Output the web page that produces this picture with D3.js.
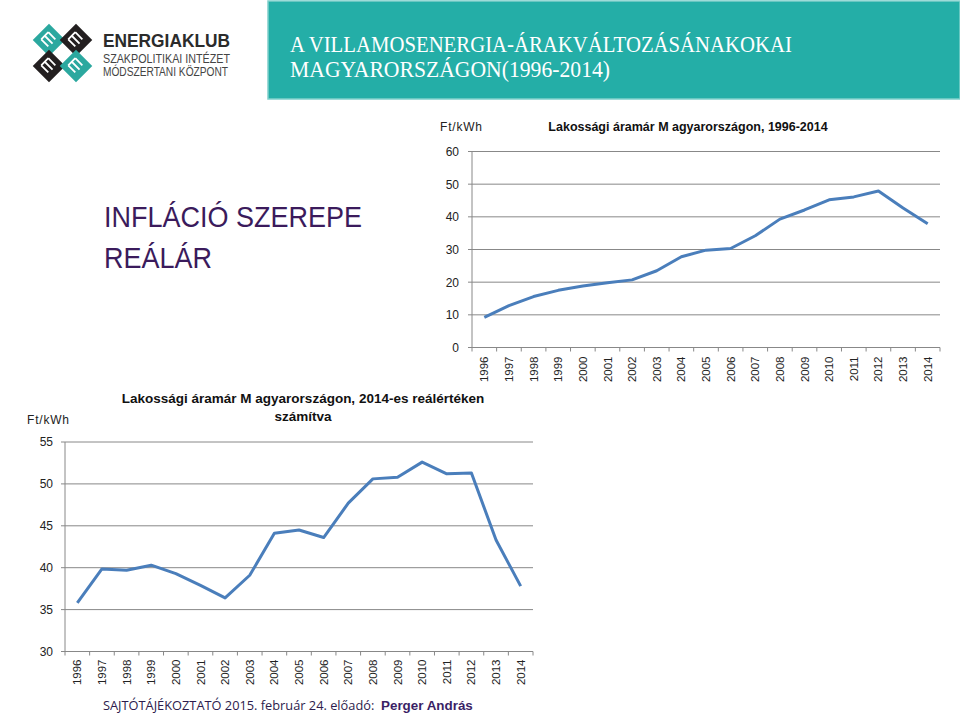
<!DOCTYPE html>
<html><head><meta charset="utf-8">
<script src="https://cdn.jsdelivr.net/npm/d3@7"></script>
<style>body{margin:0;background:#fff}svg{display:block}</style>
</head><body>
<svg id="c" width="960" height="715"></svg>
<script>
const years = ["1996","1997","1998","1999","2000","2001","2002","2003","2004","2005","2006","2007","2008","2009","2010","2011","2012","2013","2014"];
const nominalPrice = [9.2,12.8,15.6,17.5,18.8,19.8,20.7,23.5,27.8,29.8,30.3,34.2,39.3,42.1,45.2,46.1,47.9,42.7,37.9];
const realPrice = [35.8,39.85,39.7,40.3,39.3,37.9,36.4,39.1,44.1,44.5,43.6,47.7,50.6,50.8,52.6,51.2,51.3,43.3,37.8];
const topTicks = [0,10,20,30,40,50,60];
const bottomTicks = [30,35,40,45,50,55];
const unitLabel = "Ft/kWh";
const topTitle = "Lakossági áramár M agyarországon, 1996-2014";
const bottomTitle = ["Lakossági áramár M agyarországon, 2014-es reálértéken", "számítva"];
const headerLines = ["A VILLAMOSENERGIA-ÁRAKVÁLTOZÁSÁNAKOKAI", "MAGYARORSZÁGON(1996-2014)"];
const sideLines = ["INFLÁCIÓ SZEREPE", "REÁLÁR"];
const footerText = "SAJTÓTÁJÉKOZTATÓ 2015. február 24. előadó:";
const footerName = "Perger András";

const svg = d3.select("#c");
const SANS = "'Liberation Sans', Arial, sans-serif";
const gridColor = "#888888";
const lineColor = "#4a7ebb";

// Header box
svg.append("rect").attr("x",268).attr("y",1).attr("width",692).attr("height",98)
  .attr("fill","#24aea7").attr("stroke","#7fd0cb").attr("stroke-width",1.5);
headerLines.forEach((t,i)=>{
  svg.append("text").attr("x",290).attr("y",[52,77][i])
    .attr("font-family","'Liberation Serif', 'DejaVu Serif', serif").attr("font-size",23)
    .attr("fill","#fff").attr("textLength",[502,320][i]).attr("lengthAdjust","spacingAndGlyphs").text(t);
});

// Logo
const logo = svg.append("g");
const dia = [[49,40,"#2ba89f"],[76,40,"#231f20"],[49,66,"#231f20"],[76,66,"#2ba89f"]];
dia.forEach(([cx,cy,c])=>{
  const g = logo.append("g").attr("transform",`translate(${cx},${cy}) rotate(45)`);
  g.append("rect").attr("x",-11.5).attr("y",-11.5).attr("width",23).attr("height",23).attr("fill",c);
  g.append("path").attr("d","M-6,-5 L4,-5 M-6,0 L5,0 M-6,5 L4,5 M-6,-5 L-6,5")
    .attr("stroke","#fff").attr("stroke-width",1.8).attr("fill","none");
});
logo.append("rect").attr("x",58.5).attr("y",49).attr("width",8).attr("height",8)
  .attr("transform","rotate(45,62.5,53)").attr("fill","#fff");
svg.append("text").attr("x",103).attr("y",47).attr("font-family",SANS).attr("font-weight","bold")
  .attr("font-size",19).attr("fill","#2b2b2b").attr("textLength",127).attr("lengthAdjust","spacingAndGlyphs").text("ENERGIAKLUB");
svg.append("text").attr("x",103).attr("y",63).attr("font-family",SANS).attr("font-size",12.5)
  .attr("fill","#444").attr("textLength",127).attr("lengthAdjust","spacingAndGlyphs").text("SZAKPOLITIKAI INTÉZET");
svg.append("text").attr("x",103).attr("y",76).attr("font-family",SANS).attr("font-size",12.5)
  .attr("fill","#444").attr("textLength",125).attr("lengthAdjust","spacingAndGlyphs").text("MÓDSZERTANI KÖZPONT");

// Side text
sideLines.forEach((t,i)=>{
  svg.append("text").attr("x",104).attr("y",[227,268][i]).attr("font-family",SANS)
    .attr("font-size",29).attr("fill","#3b1b5c").attr("textLength",[258,108][i])
    .attr("lengthAdjust","spacingAndGlyphs").text(t);
});

function drawChart(cfg){
  const g = svg.append("g");
  const x = d3.scaleBand().domain(years).range([cfg.x0, cfg.x1]);
  const y = d3.scaleLinear().domain(cfg.domain).range([cfg.yBottom, cfg.yTop]);
  g.selectAll(".grid").data(cfg.ticks).join("line")
    .attr("x1",cfg.x0-4).attr("x2",cfg.x1).attr("y1",d=>y(d)).attr("y2",d=>y(d))
    .attr("stroke",gridColor).attr("stroke-width",1);
  g.append("line").attr("x1",cfg.x0).attr("x2",cfg.x0).attr("y1",y(cfg.domain[1])).attr("y2",y(cfg.domain[0]))
    .attr("stroke",gridColor).attr("stroke-width",1);
  const ya = g.append("g").attr("transform",`translate(${cfg.x0},0)`)
    .call(d3.axisLeft(y).tickValues(cfg.ticks).tickSize(0).tickPadding(cfg.yPad));
  ya.select(".domain").remove();
  ya.selectAll("text").attr("font-family",SANS).attr("font-size",12).attr("fill","#222");
  const bounds = years.map(d=>x(d)).concat([cfg.x1]);
  g.selectAll(".xt").data(bounds).join("line")
    .attr("x1",d=>d).attr("x2",d=>d).attr("y1",cfg.yBottom).attr("y2",cfg.yBottom+4)
    .attr("stroke",gridColor);
  g.selectAll(".xl").data(years).join("text")
    .attr("transform",d=>`translate(${x(d)+x.bandwidth()/2},${cfg.yBottom+cfg.xPad}) rotate(-90)`)
    .attr("text-anchor","end").attr("dy","0.35em")
    .attr("font-family",SANS).attr("font-size",11.5).attr("fill","#222").text(d=>d);
  const line = d3.line().x((d,i)=>x(years[i])+x.bandwidth()/2).y(d=>y(d));
  g.append("path").datum(cfg.values).attr("d",line).attr("fill","none")
    .attr("stroke",lineColor).attr("stroke-width",3).attr("stroke-linejoin","round");
  g.append("text").attr("x",cfg.unitX).attr("y",cfg.unitY).attr("font-family",SANS)
    .attr("font-size",12).attr("letter-spacing",0.8).attr("fill","#222").text(unitLabel);
  cfg.title.forEach((t,i)=>{
    g.append("text").attr("x",cfg.titleX).attr("y",cfg.titleY+i*18).attr("text-anchor","middle")
      .attr("font-family",SANS).attr("font-weight","bold").attr("font-size",cfg.titleSize)
      .attr("fill","#111").text(t);
  });
}

drawChart({x0:472,x1:940,yTop:151.5,yBottom:347.5,domain:[0,60],ticks:topTicks,values:nominalPrice,
  yPad:13,xPad:9,unitX:440,unitY:131,title:[topTitle],titleX:688,titleY:131,titleSize:12.5});
drawChart({x0:65,x1:533,yTop:442,yBottom:651.5,domain:[30,55],ticks:bottomTicks,values:realPrice,
  yPad:12,xPad:8,unitX:27,unitY:424,title:bottomTitle,titleX:303,titleY:403,titleSize:13.5});

// footer
svg.append("text").attr("x",103).attr("y",710).attr("font-size",12.8)
  .attr("font-family","'Open Sans', 'Noto Sans', sans-serif").attr("fill","#2d1c4d").text(footerText);
svg.append("text").attr("x",381).attr("y",710).attr("font-size",13.4)
  .attr("font-family",SANS).attr("font-weight","bold").attr("fill","#3b1f66").text(footerName);
</script>
</body></html>
